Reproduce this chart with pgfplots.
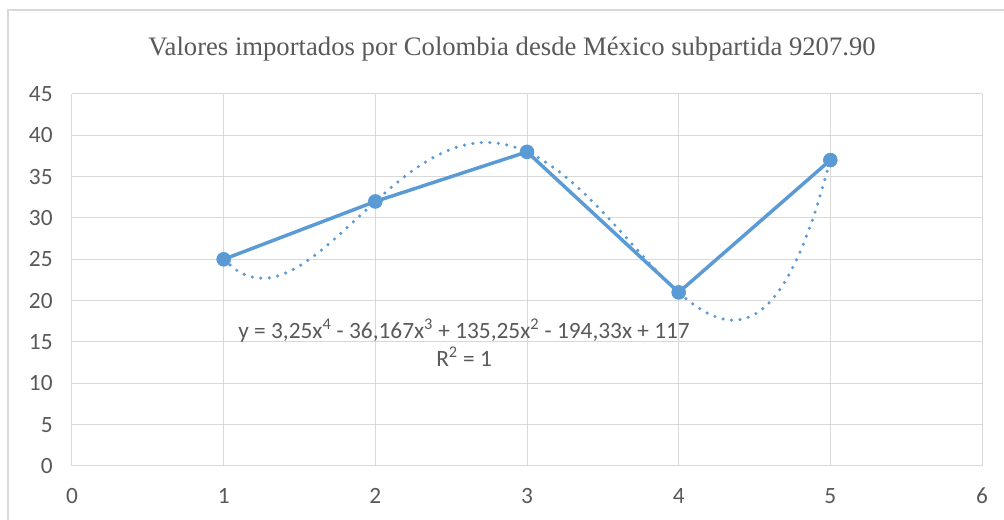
\documentclass[border=0pt]{standalone}
\usepackage{pgfplots}
\pgfplotsset{compat=1.18}
\usepackage{fontspec}
\setmainfont{Carlito}
\newfontfamily\titlefont{Liberation Serif}
\definecolor{gridc}{HTML}{D9D9D9}
\definecolor{txt}{HTML}{595959}
\definecolor{ser}{HTML}{5B9BD5}
\pgfplotstableread{
x y
1 25
2 32
3 38
4 21
5 37
}\datatbl
\pgfplotstableread{
x y
1.0 25.0
1.1 23.506
1.2 22.803
1.3 22.763
1.4 23.267
1.5 24.203
1.6 25.467
1.7 26.962
1.8 28.603
1.9 30.306
2.0 32.0
2.1 33.619
2.2 35.107
2.3 36.414
2.4 37.499
2.5 38.328
2.6 38.875
2.7 39.122
2.8 39.059
2.9 38.683
3.0 38.0
3.1 37.022
3.2 35.771
3.3 34.275
3.4 32.571
3.5 30.703
3.6 28.723
3.7 26.692
3.8 24.675
3.9 22.750
4.0 21.0
4.1 19.515
4.2 18.395
4.3 17.746
4.4 17.683
4.5 18.328
4.6 19.811
4.7 22.270
4.8 25.851
4.9 30.741
5.0 37.0
}\trendtbl
\begin{document}
\begin{tikzpicture}
\fill[white] (0pt,0pt) rectangle (753pt,390pt);
\draw[gridc, line width=0.9pt] (6pt,0pt) -- (6pt,382.5pt) -- (753pt,382.5pt);
\node[text=txt, font=\titlefont\fontsize{20}{24}\selectfont] at (384pt,353.5pt) {Valores importados por Colombia desde México subpartida 9207.90};
\begin{axis}[
  at={(54pt,40.5pt)}, anchor=south west,
  scale only axis, width=682.5pt, height=279pt,
  xmin=0, xmax=6, ymin=0, ymax=45,
  xtick={0,1,...,6}, ytick={0,5,...,45},
  grid=major, major grid style={gridc, line width=0.75pt},
  axis line style={gridc, line width=0.75pt},
  axis x line*=bottom, axis y line*=left,
  tick style={draw=none},
  ticklabel style={text=txt, font=\fontsize{17.5}{20}\selectfont},
  /pgf/number format/assume math mode=true,
  xticklabel style={yshift=-13pt},
  yticklabel style={xshift=-11pt},
  clip=false,
]
\addplot[ser, line width=2.6pt, line cap=round, dash pattern=on 0pt off 6.4pt, smooth] table[x=x,y=y]{\trendtbl};
\addplot[ser, line width=2.6pt, mark=*, mark size=5.2pt, mark options={solid, fill=ser, draw=ser, line width=0.5pt}] table[x=x,y=y]{\datatbl};
\node[text=txt, font=\fontsize{17.5}{21}\selectfont, align=center] at (axis cs:2.585,14.9) {y = 3,25x\textsuperscript{4} - 36,167x\textsuperscript{3} + 135,25x\textsuperscript{2} - 194,33x + 117\\R\textsuperscript{2} = 1};
\end{axis}
\pgfresetboundingbox
\useasboundingbox (0pt,0pt) rectangle (753pt,390pt);
\end{tikzpicture}
\end{document}
